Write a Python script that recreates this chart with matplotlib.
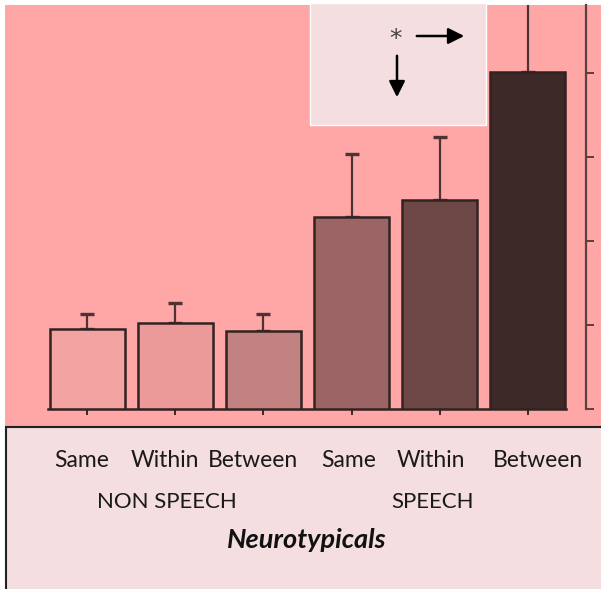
import matplotlib
matplotlib.use("Agg")
from matplotlib import pyplot as plt
from matplotlib.patches import Rectangle, FancyArrowPatch

W, H = 601, 589

# data
conditions = ["Same", "Within", "Between", "Same", "Within", "Between"]
groups = ["NON SPEECH", "SPEECH"]
means = [0.95, 1.02, 0.93, 2.29, 2.49, 4.01]
errors = [0.18, 0.24, 0.20, 0.75, 0.75, 1.00]
bar_colors = ["#F4A3A3", "#EC9999", "#C38282", "#9C6565", "#6E4747", "#3E2929"]
yticks = [0, 1, 2, 3, 4]


def px(x, y):
    # pixel (top-left origin) -> figure fraction
    return x / W, 1 - y / H


fig = plt.figure(figsize=(W / 100, H / 100), dpi=100)
fig.patch.set_facecolor("white")

# pink plot background and light lower panel
fig.add_artist(Rectangle(px(5, 427), 600 / W, 422 / H, transform=fig.transFigure,
                         facecolor="#FFA6A6", edgecolor="none", zorder=-2))
fig.add_artist(Rectangle(px(6, 595), 610 / W, 168 / H, transform=fig.transFigure,
                         facecolor="#F4DEDF", edgecolor="#222222", lw=1.5, zorder=-1))

l, b = px(43, 409)
ax = fig.add_axes([l, b, (586 - 43) / W, (409 - 5) / H])
ax.set_facecolor("none")

x = list(range(len(means)))
ax.bar(x, means, width=0.85, color=bar_colors, edgecolor="#332222", linewidth=1.8,
       zorder=3)
ax.errorbar(x, means, yerr=[[0] * len(errors), errors], fmt="none", ecolor="#4A3434",
            elinewidth=1.6, capsize=4.7, capthick=2.4, zorder=2)

ax.set_xlim(-0.5, 5.66)
ax.set_ylim(0, 404 / 84)
for s in ["left", "top"]:
    ax.spines[s].set_visible(False)
ax.spines["bottom"].set_bounds(-0.44, 5.43)
ax.spines["bottom"].set_color("#332222")
ax.spines["bottom"].set_linewidth(1.8)
ax.spines["right"].set_color("#5A4040")
ax.spines["right"].set_linewidth(1.6)

ax.set_xticks(x)
ax.set_xticklabels([])
ax.tick_params(axis="x", direction="out", length=4, width=1.4, color="#3A2828")
ax.yaxis.tick_right()
ax.set_yticks(yticks)
ax.set_yticklabels([])
ax.tick_params(axis="y", direction="out", length=6, width=1.4, color="#5A4040")

# inset box with the significance arrows
fig.add_artist(Rectangle(px(310, 125), 176 / W, 122 / H, transform=fig.transFigure,
                         facecolor="#F4DEDF", edgecolor="white", lw=1, zorder=4))
fig.text(*px(395, 46), "*", fontsize=18, color="#444444", ha="center", va="baseline",
         zorder=5)
fig.add_artist(FancyArrowPatch(px(414, 36), px(467, 36), transform=fig.transFigure,
                               arrowstyle="-|>", mutation_scale=24, lw=1.8,
                               color="black", zorder=5))
fig.add_artist(FancyArrowPatch(px(397, 53), px(397, 100), transform=fig.transFigure,
                               arrowstyle="-|>", mutation_scale=24, lw=1.8,
                               color="black", zorder=5))

# labels under the bars
label_x = [82, 165, 253, 349, 431, 538]
font = "Lato"
for lx, name in zip(label_x, conditions):
    fig.text(*px(lx, 467), name, fontsize=16.5, family=font, color="#1A1A1A",
             ha="center", va="baseline")
for gx, name in zip([167, 433], groups):
    fig.text(*px(gx, 508), name, fontsize=16, family=font, color="#1A1A1A",
             ha="center", va="baseline")
fig.text(*px(307, 548), "Neurotypicals", fontsize=19.5, family=font, weight="bold",
         style="italic", color="#111111", ha="center", va="baseline")

fig.savefig("out.png", dpi=100)
